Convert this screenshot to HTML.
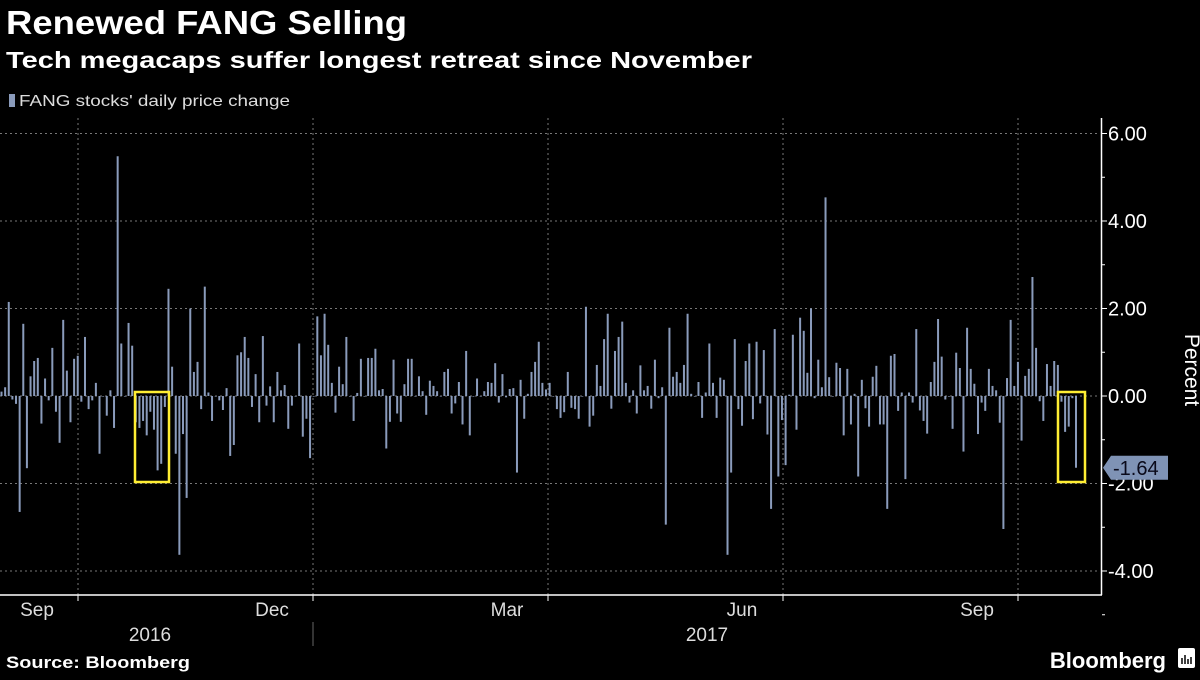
<!DOCTYPE html>
<html><head><meta charset="utf-8"><style>
body{margin:0;background:#000;width:1200px;height:675px;overflow:hidden;font-family:"Liberation Sans",sans-serif;color:#fff}
</style></head><body>
<svg width="1200" height="675" xmlns="http://www.w3.org/2000/svg" id="chart">
<text x="6" y="34" font-size="33" font-weight="bold" fill="#fff" textLength="401" lengthAdjust="spacingAndGlyphs">Renewed FANG Selling</text>
<text x="6" y="68" font-size="23" font-weight="bold" fill="#fff" textLength="746" lengthAdjust="spacingAndGlyphs">Tech megacaps suffer longest retreat since November</text>
<rect x="9" y="94" width="6" height="13" fill="#8a9bbb"/>
<text x="19" y="106" font-size="16" fill="#ddd" textLength="271" lengthAdjust="spacingAndGlyphs">FANG stocks' daily price change</text>
<g id="grid"></g>
<g id="bars"></g>
<g id="axis"></g>
<line x1="0" y1="595" x2="1102" y2="595" stroke="#fff" stroke-width="1.5"/>
<line x1="1101.5" y1="118" x2="1101.5" y2="595" stroke="#fff" stroke-width="1.5"/>
<text x="1185" y="370" font-size="21" fill="#fff" text-anchor="middle" transform="rotate(90 1185 370)">Percent</text>
<rect x="135" y="392" width="34" height="90" fill="none" stroke="#ffee33" stroke-width="2.5"/>
<rect x="1058" y="392" width="27" height="90" fill="none" stroke="#ffee33" stroke-width="2.5"/>
<g id="xlabels"></g>
<text x="150" y="641" font-size="19" fill="#ddd" text-anchor="middle">2016</text>
<text x="707" y="641" font-size="19" fill="#ddd" text-anchor="middle">2017</text>
<line x1="313" y1="622" x2="313" y2="646" stroke="#666"/>
<text x="6" y="668" font-size="17" font-weight="bold" fill="#fff" textLength="184" lengthAdjust="spacingAndGlyphs">Source: Bloomberg</text>
<text x="1166" y="668" font-size="22" font-weight="bold" fill="#fff" text-anchor="end">Bloomberg</text>
<rect x="1178" y="648" width="17" height="20" rx="2" fill="#fff"/>
<path d="M1182 664v-6M1185 664v-9M1188 664v-5M1191 664v-7" stroke="#000" stroke-width="1.5"/>
<g id="tag"></g>
</svg>
<script>
const values=[0.1,0.2,2.15,-0.08,-0.18,-2.65,1.65,-1.65,0.45,0.8,0.87,-0.63,0.4,-0.1,1.1,-0.36,-1.07,1.74,0.58,-0.6,0.85,0.92,-0.13,1.35,-0.3,-0.1,0.3,-1.32,0,-0.45,0.13,-0.73,5.48,1.2,0,1.67,1.15,-0.6,-0.73,-0.57,-0.9,-0.36,-0.77,-1.7,-1.55,-0.25,2.45,0.67,-1.32,-3.63,-0.87,-2.33,2.0,0.55,0.78,-0.3,2.5,0.08,-0.57,0,-0.1,-0.32,0.18,
-1.37,-1.12,0.93,1.0,1.35,0.87,-0.25,0.5,-0.6,1.37,-0.22,0.22,-0.6,0.55,0.13,0.25,-0.75,-0.22,0,1.2,-0.93,-0.52,-1.42,0,1.82,0.93,1.88,1.17,0.3,-0.38,0.67,0.27,1.35,0,-0.57,0.07,0.85,0,0.87,0.87,1.08,0.13,0.16,-1.2,-0.59,0.83,-0.4,-0.59,0.27,0.85,0.85,0,0.45,0.11,-0.43,0.35,0.23,0.11,0,0.55,0.62,-0.4,
-0.17,0.32,-0.65,1.03,-0.9,0,0.4,0,0.11,0.32,0.3,0.75,-0.15,0.5,-0.03,0.16,0.18,-1.75,0.37,-0.52,0.05,0.55,0.78,1.24,0.3,0.15,0.3,0,-0.3,-0.5,-0.37,0.55,-0.27,-0.3,-0.52,0,2.04,-0.7,-0.45,0.71,0.23,1.3,1.88,-0.29,1.03,1.35,1.7,0.3,-0.15,0.13,-0.4,0.7,0.13,0.23,-0.29,0.83,-0.05,0.2,-2.94,1.56,0.44,0.55,
0.3,0.71,1.88,0.05,0,0.32,-0.5,0.08,1.2,0.3,-0.5,0.42,0.37,-3.63,-1.75,1.3,-0.3,-0.68,0.8,1.2,-0.53,1.24,-0.17,1.05,-0.88,-2.58,1.53,-1.84,-0.55,-1.58,0.03,1.4,-0.77,1.79,1.49,0.53,2.0,-0.05,0.83,0.2,4.54,0.43,0,0.76,0.64,-0.9,0.62,-0.65,0.05,-1.84,0.37,-0.28,-0.7,0.44,0.69,-0.65,-0.65,-2.58,0.92,0.96,-0.34,0.08,
-1.9,0.08,-0.15,1.53,-0.33,-0.57,-0.86,0.32,0.78,1.76,0.9,-0.08,0,-0.75,0.99,0.64,-1.27,1.56,0.62,0.28,-0.87,-0.15,-0.34,0.62,0.23,0.13,-0.61,-3.04,0.41,1.74,0.23,0.78,-1.02,0.46,0.62,2.72,1.1,-0.12,-0.57,0.73,0.23,0.8,0.71,-0.13,-0.82,-0.7,-0.05,-1.64];
const yTicks=[6,4,2,0,-2,-4];
const yTickLabels=["6.00","4.00","2.00","0.00","-2.00","-4.00"];
const monthLabels=["Sep","Dec","Mar","Jun","Sep"];
const lastValue=-1.64;
const NS="http://www.w3.org/2000/svg";
const y=v=>396-v*43.75;
const x0=1.5,x1=1076;
const xb=i=>x0+i*(x1-x0)/(values.length-1);
function mk(t,a,p){const e=document.createElementNS(NS,t);for(const k in a)e.setAttribute(k,a[k]);p.appendChild(e);return e;}
const grid=document.getElementById('grid');
yTicks.forEach(v=>{const l=mk('line',{x1:0,x2:1100,y1:y(v),y2:y(v),stroke:'#777','stroke-dasharray':'2,3','stroke-width':1},grid);

});
[78,313,548,783,1018].forEach(px=>{const l=mk('line',{x1:px,x2:px,y1:118,y2:595,stroke:'#777','stroke-dasharray':'2,3','stroke-width':1},grid);


const t=mk('line',{x1:px,x2:px,y1:595,y2:601,stroke:'#fff'},grid);

});
const bars=document.getElementById('bars');
values.forEach((v,i)=>{const r=mk('rect',{x:xb(i)-1,width:2,y:Math.min(y(v),y(0)),height:Math.max(Math.abs(y(v)-y(0)),0.6),fill:'#8a9bbb'},bars);

});
const ax=document.getElementById('axis');
yTicks.forEach((v,i)=>{mk('line',{x1:1102,x2:1107,y1:y(v),y2:y(v),stroke:'#fff'},ax);
mk('line',{x1:1102,x2:1105,y1:y(v-1),y2:y(v-1),stroke:'#fff'},ax);
const t=mk('text',{x:1108,y:y(v)+7,'font-size':20,fill:'#fff'},ax);t.textContent=yTickLabels[i];

});
const xl=document.getElementById('xlabels');
[37,272,507,742,977].forEach((px,i)=>{const t=mk('text',{x:px,y:616,'font-size':19,fill:'#ddd','text-anchor':'middle'},xl);t.textContent=monthLabels[i];

});
const tag=document.getElementById('tag');
const ty=y(lastValue);
mk('path',{d:`M1103 ${ty} L1111 ${ty-12} H1168 V${ty+12} H1111 Z`,fill:'#7f93b5'},tag);
const tt=mk('text',{x:1113,y:ty+7,'font-size':20,fill:'#0a0a1a'},tag);tt.textContent=lastValue.toFixed(2);


</script>
</body></html>
